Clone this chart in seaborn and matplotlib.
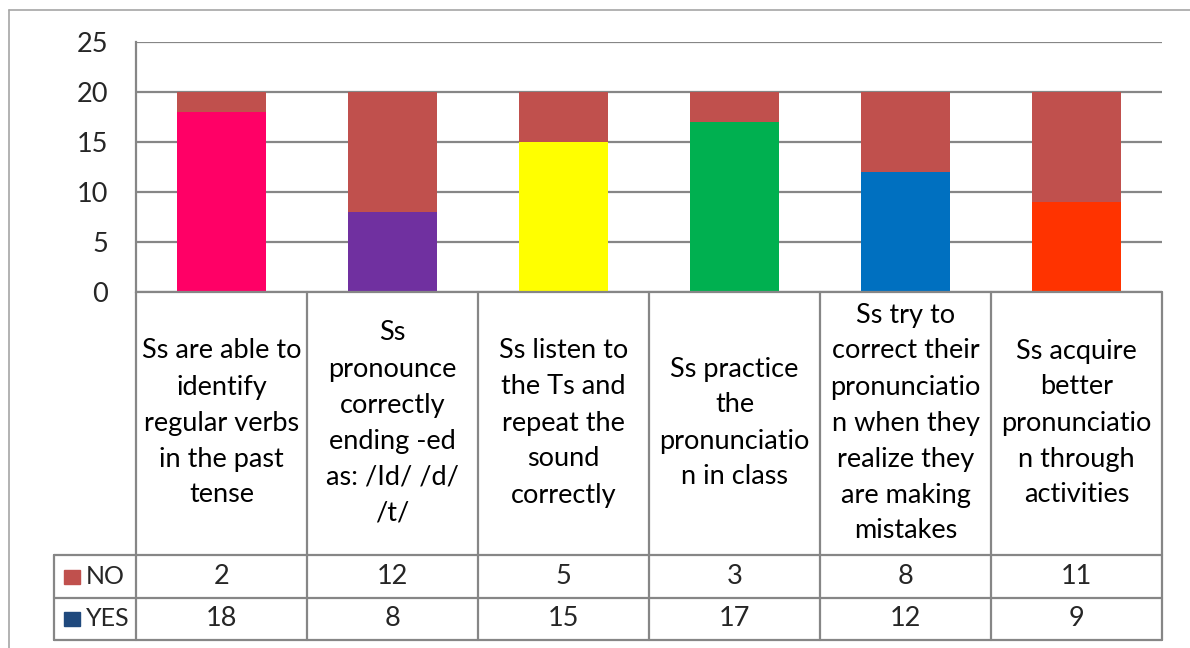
import matplotlib
matplotlib.use("Agg")
import matplotlib.pyplot as plt
import seaborn as sns
from matplotlib.patches import Rectangle

# Data
categories = [
    "Ss are able to\nidentify\nregular verbs\nin the past\ntense",
    "Ss\npronounce\ncorrectly\nending -ed\nas: /Id/ /d/\n/t/",
    "Ss listen to\nthe Ts and\nrepeat the\nsound\ncorrectly",
    "Ss practice\nthe\npronunciatio\nn in class",
    "Ss try to\ncorrect their\npronunciatio\nn when they\nrealize they\nare making\nmistakes",
    "Ss acquire\nbetter\npronunciatio\nn through\nactivities",
]
no_vals = [2, 12, 5, 3, 8, 11]
yes_vals = [18, 8, 15, 17, 12, 9]
yes_colors = ["#FF0066", "#7030A0", "#FFFF00", "#00B050", "#0070C0", "#FF3300"]
series_names = ["NO", "YES"]
legend_colors = ["#C0504D", "#1F497D"]
yticks = [0, 5, 10, 15, 20, 25]

sns.set_style("white")
plt.rcParams["font.family"] = ["Lato", "DejaVu Sans"]

W, H = 1190, 648
grid_c = "#868686"
fs = 19.5

fig = plt.figure(figsize=(W / 100, H / 100), dpi=100)

def fx(x):
    return x / W

def fy(y):
    return 1 - y / H

# Plot area
left, right, top, bottom = 136, 1162, 42, 292
ax = fig.add_axes([fx(left), fy(bottom), fx(right - left), (bottom - top) / H])

totals = [a + b for a, b in zip(yes_vals, no_vals)]
ids = list(range(len(categories)))
sns.barplot(x=ids, y=totals, color=legend_colors[0], saturation=1,
            width=0.515, linewidth=0, ax=ax, zorder=3)
sns.barplot(x=ids, y=yes_vals, hue=ids, palette=yes_colors, saturation=1,
            width=0.515, linewidth=0, legend=False, ax=ax, zorder=4)

ax.set_ylim(0, 25)
ax.set_xlim(-0.5, len(categories) - 0.5)
ax.set_yticks(yticks)
ax.set_yticklabels([str(t) for t in yticks], fontsize=fs)
ax.tick_params(axis="y", length=0, pad=20)
ax.set_xticks([])
ax.set_xlabel("")
ax.set_ylabel("")
ax.yaxis.grid(True, color=grid_c, linewidth=1.6, zorder=0)
ax.set_axisbelow(True)
for s in ["top", "right", "bottom"]:
    ax.spines[s].set_visible(False)
ax.spines["left"].set_color(grid_c)
ax.spines["left"].set_linewidth(1.6)

# Overlay for the data table
ov = fig.add_axes([0, 0, 1, 1], zorder=5)
ov.set_xlim(0, W)
ov.set_ylim(H, 0)
ov.axis("off")
ov.patch.set_alpha(0)

# outer chart border
ov.plot([9, 9], [10, H + 5], color="#A6A6A6", lw=1.2)
ov.plot([9, W + 5], [10, 10], color="#A6A6A6", lw=1.2)

col_w = (right - left) / len(categories)
row_no, row_yes, row_end = 555, 598, 640
lw = 1.6
# horizontal lines
ov.plot([left, right], [bottom, bottom], color=grid_c, lw=lw)
for y in [row_no, row_yes, row_end]:
    ov.plot([54, right], [y, y], color=grid_c, lw=lw)
# vertical lines
for i in range(len(categories) + 1):
    x = left + i * col_w
    ov.plot([x, x], [bottom, row_end], color=grid_c, lw=lw)
ov.plot([54, 54], [row_no, row_end], color=grid_c, lw=lw)

for i, cat in enumerate(categories):
    cx = left + (i + 0.5) * col_w
    ov.text(cx, 423, cat, ha="center", va="center", fontsize=fs,
            linespacing=1.55, color="black")
    ov.text(cx, (row_no + row_yes) / 2, str(no_vals[i]), ha="center",
            va="center", fontsize=fs)
    ov.text(cx, (row_yes + row_end) / 2, str(yes_vals[i]), ha="center",
            va="center", fontsize=fs)

for j, (name, c) in enumerate(zip(series_names, legend_colors)):
    y0 = [row_no, row_yes][j]
    y1 = [row_yes, row_end][j]
    cy = (y0 + y1) / 2
    ov.add_patch(Rectangle((64, cy - 7), 16, 14, color=c))
    ov.text(86, cy, name, ha="left", va="center", fontsize=18)

fig.savefig("out.png", dpi=100)
